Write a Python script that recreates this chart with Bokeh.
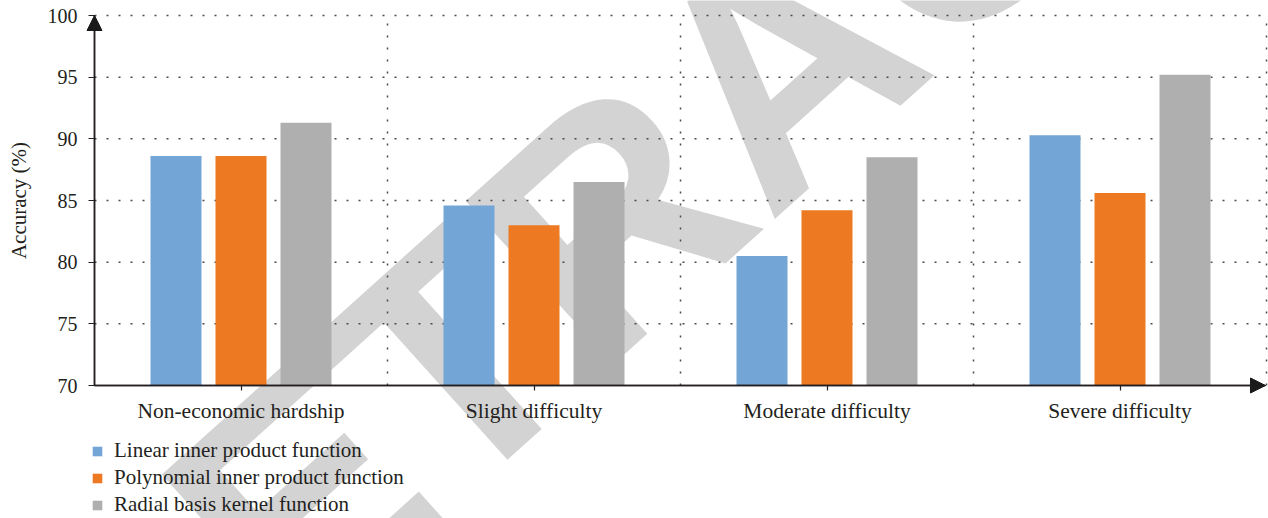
from bokeh.plotting import figure
from bokeh.models import (Range1d, FixedTicker, Arrow, NormalHead, LinearAxis,
                          Legend, LegendItem, ColumnDataSource)
from bokeh.core.properties import value
from bokeh.embed import file_html
from bokeh.resources import INLINE

# ---- data ----
categories = ["Non-economic hardship", "Slight difficulty", "Moderate difficulty", "Severe difficulty"]
linear = [88.6, 84.6, 80.5, 90.3]
polynomial = [88.6, 83.0, 84.2, 85.6]
rbf = [91.3, 86.5, 88.5, 95.2]
series_names = ["Linear inner product function", "Polynomial inner product function",
                "Radial basis kernel function"]
colors = ["#73A5D6", "#ED7A22", "#AFAFAF"]
y_ticks = [70, 75, 80, 85, 90, 95, 100]
watermark = "RETRACTED"

FONT = "Liberation Serif"
TXT = "#231F20"
GRID = "#4A4A4A"

W, H = 1268, 518
n = len(categories)
PX_X = 293.0       # pixels per category
PX_Y = 370 / 30.0  # pixels per percentage point
# the plotting frame covers the whole canvas; the axes sit at fixed positions in it
x_start = -94 / PX_X
x_end = (W - 94) / PX_X
y_start = 70 - (H - 385) / PX_Y
y_end = 100 + 15 / PX_Y

p = figure(width=W, height=H, x_range=Range1d(x_start, x_end), y_range=Range1d(y_start, y_end),
           output_backend="svg", toolbar_location=None,
           x_axis_location=None, y_axis_location=None,
           min_border_left=0, min_border_top=0, min_border_right=0, min_border_bottom=0)
p.outline_line_color = None
p.xgrid.visible = False
p.ygrid.visible = False

# watermark text (behind everything)
p.text(x=[(780 - 94) / PX_X], y=[70 + (385 - 64) / PX_Y], text=[watermark], angle=42, angle_units="deg",
       text_font=value("Liberation Sans"), text_font_style="bold", text_font_size=value("320px"),
       text_color="#D3D3D3", text_align="center", text_baseline="alphabetic", level="image")

# dotted grid lines
hy = y_ticks[1:]
p.segment(x0=[0] * len(hy), y0=hy, x1=[x_end] * len(hy), y1=hy,
          line_color=GRID, line_dash="2 10", line_width=1.5, level="underlay")
bx = list(range(1, n + 1))
p.segment(x0=bx, y0=[70] * n, x1=bx, y1=[100] * n,
          line_color=GRID, line_dash="2 10", line_width=1.5, level="underlay")

# bars
offsets = [-65 / PX_X, 0.0, 65 / PX_X]
bar_w = 51 / PX_X
renderers = []
for vals, off, col in zip([linear, polynomial, rbf], offsets, colors):
    src = ColumnDataSource(dict(x=[i + 0.5 + off for i in range(n)], top=vals))
    r = p.vbar(x="x", top="top", bottom=70, width=bar_w, source=src,
               fill_color=col, line_color=None)
    renderers.append(r)

# axes
arrow_tip = (1265 - 94) / PX_X
xaxis = LinearAxis(fixed_location=70, bounds=(0, arrow_tip),
                   ticker=FixedTicker(ticks=[i + 0.5 for i in range(n)]),
                   major_label_overrides={i + 0.5: c for i, c in enumerate(categories)},
                   minor_tick_line_color=None, major_tick_in=0, major_tick_out=5,
                   major_label_standoff=8, major_label_text_font=FONT,
                   major_label_text_font_size="21.5px", major_label_text_color=TXT)
yaxis = LinearAxis(fixed_location=0, bounds=(70, 100), ticker=FixedTicker(ticks=y_ticks),
                   minor_tick_line_color=None, major_tick_in=0, major_tick_out=6,
                   major_label_standoff=11, major_label_text_font=FONT,
                   major_label_text_font_size="20px", major_label_text_color=TXT,
                   axis_label="Accuracy (%)", axis_label_text_font=FONT,
                   axis_label_text_font_style="normal", axis_label_text_font_size="21px",
                   axis_label_text_color=TXT, axis_label_standoff=14)
for ax in (xaxis, yaxis):
    ax.axis_line_color = TXT
    ax.axis_line_width = 1.5
    ax.major_tick_line_color = TXT
    ax.major_tick_line_width = 1.2
p.add_layout(xaxis, "below")
p.add_layout(yaxis, "left")

# arrow heads on axes
head = dict(size=15, fill_color="#1A1A1A", line_color="#1A1A1A")
p.add_layout(Arrow(end=NormalHead(**head), x_start=0, y_start=70, x_end=0, y_end=100,
                   line_color=TXT, line_width=1.5))
p.add_layout(Arrow(end=NormalHead(**head), x_start=0, y_start=70, x_end=arrow_tip, y_end=70,
                   line_color=TXT, line_width=1.5))

# legend
legend = Legend(items=[LegendItem(label=nm, renderers=[r]) for nm, r in zip(series_names, renderers)],
                location=(91, 0), orientation="vertical",
                glyph_width=12, glyph_height=12, label_standoff=11,
                label_height=27, spacing=0, padding=0, margin=0,
                label_text_font=FONT, label_text_font_size="21px", label_text_color=TXT,
                border_line_color=None, background_fill_alpha=0)
p.add_layout(legend)

open("out.html", "w").write(file_html(p, INLINE))
